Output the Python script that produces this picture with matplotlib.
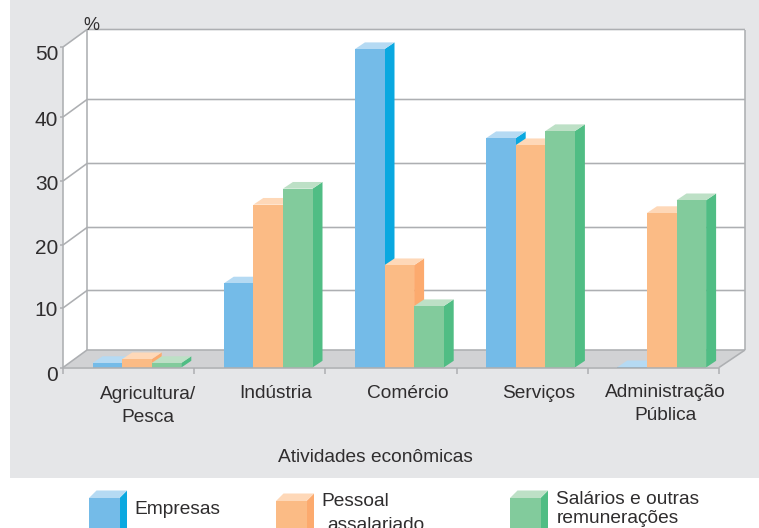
import matplotlib
matplotlib.use('Agg')
import matplotlib.pyplot as plt
import numpy as np
from matplotlib.patches import Polygon, Rectangle
from matplotlib.transforms import Affine2D, IdentityTransform, ScaledTranslation

plt.rcParams['font.family'] = ['Liberation Sans', 'DejaVu Sans']

# values
categories = ['Agricultura/\nPesca', 'Indústria', 'Comércio', 'Serviços', 'Administração\nPública']
empresas = [0.76, 13.9, 49.7, 36.7, 0.05]
pessoal = [1.4, 26.3, 16.8, 35.6, 25.0]
salarios = [0.76, 28.8, 10.3, 37.8, 27.0]
y_ticks = [0, 10, 20, 30, 40, 50]
# the printed axis is not evenly spaced: height of each tick above the floor, in pixels
tick_heights = [0, 59.5, 122.5, 186.5, 250.5, 320.5]

W, H = 759, 528
text_col = '#2f2d2e'
line_col = '#adafb2'
blue = ('#74bbe8', '#0aa8e0', '#b5daf3')    # front, side, top
orange = ('#fbbb85', '#fcaa6e', '#fed8b8')
green = ('#82cb9c', '#50bd84', '#bde0c6')

fig = plt.figure(figsize=(W / 100, H / 100), dpi=100, facecolor='white')
px = Affine2D().scale(1, -1).translate(0, H)   # picture pixels, y going down

fig.add_artist(Rectangle((10, 0), W - 10, 478, transform=px, fc='#e5e6e8', ec='none', zorder=-5))

ax = fig.add_axes([63 / W, (H - 367.5) / H, 656 / W, 320.5 / H])
ax.set_yscale('function', functions=(lambda v: np.interp(v, y_ticks, tick_heights),
                                     lambda h: np.interp(h, tick_heights, y_ticks)))
ax.set_xlim(0, 5)
ax.set_ylim(0, 50)
ax.patch.set_visible(False)
for s in ax.spines.values():
    s.set_visible(False)

# depth of the box and of the bars, in pixels
box_l, box_r, box_up = 24, 26, 17.5
bar_dx, bar_up = 10, 6.7
bar_w = 29.6 / 131.2
first = 29.5 / 131.2


def pt(x, y, ox=0, oy=0):
    p = ax.transData.transform((x, y))
    return (p[0] + ox, p[1] + oy)


def poly(pts, color, z):
    ax.add_patch(Polygon(pts, closed=True, transform=IdentityTransform(), fc=color, ec='none',
                         zorder=z, clip_on=False))


def line(pts, z=2, lw=1.15):
    xs, ys = zip(*pts)
    ax.plot(xs, ys, transform=IdentityTransform(), color=line_col, lw=lw, zorder=z,
            clip_on=False, solid_capstyle='butt')


# walls and floor
poly([pt(0, 50), pt(0, 50, box_l, box_up), pt(5, 50, box_r, box_up), pt(5, 0, box_r, box_up),
      pt(5, 0), pt(0, 0)], 'white', 1)
poly([pt(0, 0), pt(0, 0, box_l, box_up), pt(5, 0, box_r, box_up), pt(5, 0)], '#d1d2d4', 1.5)

for t in y_ticks:
    line([pt(0, t), pt(0, t, box_l, box_up), pt(5, t, box_r, box_up)])
line([pt(0, 0), pt(0, 50)])
line([pt(0, 0, box_l, box_up), pt(0, 50, box_l, box_up)])
line([pt(5, 0, box_r, box_up), pt(5, 50, box_r, box_up)])
line([pt(5, 0), pt(5, 0, box_r, box_up)])


def bar(x, h, cols, z):
    x1 = x + bar_w
    poly([pt(x1, 0), pt(x1, 0, bar_dx, bar_up), pt(x1, h, bar_dx, bar_up), pt(x1, h)], cols[1], z)
    poly([pt(x, h), pt(x, h, bar_dx, bar_up), pt(x1, h, bar_dx, bar_up), pt(x1, h)], cols[2], z)
    poly([pt(x, 0), pt(x1, 0), pt(x1, h), pt(x, h)], cols[0], z + 0.1)


for i in range(len(categories)):
    z = 3
    for j, (vals, cols) in enumerate([(empresas, blue), (pessoal, orange), (salarios, green)]):
        bar(i + first + j * bar_w, vals[i], cols, z)
        z += 0.2

# axes ticks
ax.set_yticks(y_ticks)
ax.set_yticklabels([str(t) for t in y_ticks])
ax.minorticks_off()
ax.set_xticks(range(6))
ax.set_xticklabels([])
ax.tick_params(axis='y', length=2, width=1.1, color=line_col, pad=1.5, labelsize=15, labelcolor=text_col)
ax.tick_params(axis='x', length=4, width=1.1, color=line_col)
# the two end labels sit further below their ticks than the others
ticklabels = ax.get_yticklabels()
for n, lab in enumerate(ticklabels):
    drop = 6 if n in (0, len(ticklabels) - 1) else 1
    lab.set_transform(lab.get_transform() + ScaledTranslation(0, -drop / 100, fig.dpi_scale_trans))
line([pt(0, 0), pt(5, 0)], z=8)


def label(x, y, s, ha='center', size=13.8):
    fig.text(x, y + 2, s, transform=px, ha=ha, va='center', fontsize=size, color=text_col,
             linespacing=1.45, zorder=10)


# category labels sit by hand, they are not centred on the ticks
label_x = [148, 276, 407.5, 538.5, 665.5]
label_y = [404, 392, 392, 392, 402]
for lx, ly, c in zip(label_x, label_y, categories):
    label(lx, ly, c)
label(91, 23, '%', size=13)
label(375.5, 456, 'Atividades econômicas')


def swatch(x, y, cols):
    w, dx, dy = 30.5, 7.5, 7.5
    b = H + 5
    for pts, c in [([(x + w, b), (x + w + dx, b), (x + w + dx, y - dy), (x + w, y)], cols[1]),
                   ([(x, y), (x + dx, y - dy), (x + w + dx, y - dy), (x + w, y)], cols[2]),
                   ([(x, y), (x + w, y), (x + w, b), (x, b)], cols[0])]:
        fig.add_artist(Polygon(pts, closed=True, transform=px, fc=c, ec='none', zorder=9))


swatch(89, 498, blue)
swatch(276, 501, orange)
swatch(510, 498, green)
label(134, 507, 'Empresas', ha='left')
label(321.5, 499.5, 'Pessoal', ha='left')
label(327.5, 523, 'assalariado', ha='left')
label(556.5, 497.5, 'Salários e outras', ha='left')
label(556.5, 516.5, 'remunerações', ha='left')

fig.savefig('out.png', dpi=100)
